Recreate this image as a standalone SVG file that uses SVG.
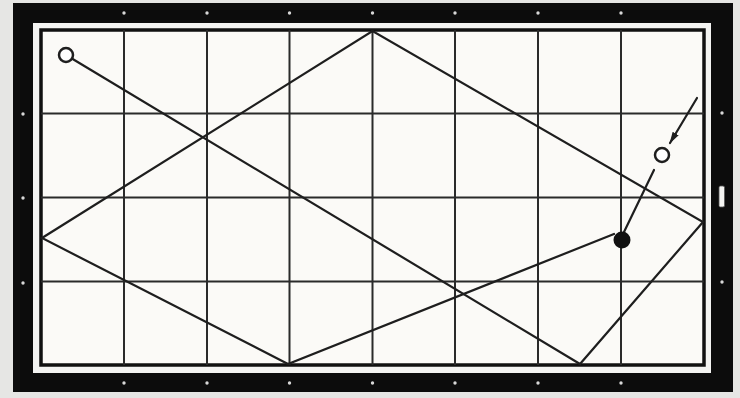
<svg xmlns="http://www.w3.org/2000/svg" width="740" height="398" viewBox="0 0 740 398">
  <defs>
    <style>
      .grid { stroke: #2a2a2a; stroke-width: 2; fill: none; }
      .path { stroke: #1e1e1e; stroke-width: 2.2; fill: none; stroke-linecap: round; }
      .dot { fill: #d8d8d8; }
      .ball-open { fill: #ffffff; stroke: #1e1e1e; stroke-width: 2.5; }
      .ball-solid { fill: #111111; }
    </style>
    <marker id="arrow" viewBox="0 0 12 8" refX="11" refY="4" markerWidth="12" markerHeight="8" markerUnits="userSpaceOnUse" orient="auto">
      <path d="M0,0.5 L12,4 L0,7.5 Z" fill="#1e1e1e"/>
    </marker>
  </defs>

  <rect x="0" y="0" width="740" height="398" fill="#e6e6e4"/>

  <g id="table">
    <rect x="13" y="3" width="720" height="389" fill="#0c0c0c"/>
    <rect x="33" y="23" width="678" height="350" fill="#f4f4f2"/>
    <rect x="41" y="30" width="663" height="335" fill="#fbfaf7" stroke="#111" stroke-width="3.5"/>
  </g>

  <g id="sights">
    <circle class="dot" cx="124" cy="13" r="1.7"/>
    <circle class="dot" cx="207" cy="13" r="1.7"/>
    <circle class="dot" cx="289.5" cy="13" r="1.7"/>
    <circle class="dot" cx="372.5" cy="13" r="1.7"/>
    <circle class="dot" cx="455" cy="13" r="1.7"/>
    <circle class="dot" cx="538" cy="13" r="1.7"/>
    <circle class="dot" cx="621" cy="13" r="1.7"/>
    <circle class="dot" cx="124" cy="383" r="1.7"/>
    <circle class="dot" cx="207" cy="383" r="1.7"/>
    <circle class="dot" cx="289.5" cy="383" r="1.7"/>
    <circle class="dot" cx="372.5" cy="383" r="1.7"/>
    <circle class="dot" cx="455" cy="383" r="1.7"/>
    <circle class="dot" cx="538" cy="383" r="1.7"/>
    <circle class="dot" cx="621" cy="383" r="1.7"/>
    <circle class="dot" cx="23" cy="114" r="1.7"/>
    <circle class="dot" cx="23" cy="198" r="1.7"/>
    <circle class="dot" cx="23" cy="283" r="1.7"/>
    <circle class="dot" cx="722" cy="113" r="1.7"/>
    <circle class="dot" cx="722" cy="282" r="1.7"/>
    <rect x="719" y="186" width="5.5" height="21" rx="1.5" fill="#f4f4f2" stroke="#555" stroke-width="0.8"/>
  </g>

  <g id="grid">
    <line class="grid" x1="124" y1="30" x2="124" y2="365"/>
    <line class="grid" x1="207" y1="30" x2="207" y2="365"/>
    <line class="grid" x1="289.5" y1="30" x2="289.5" y2="365"/>
    <line class="grid" x1="372.5" y1="30" x2="372.5" y2="365"/>
    <line class="grid" x1="455" y1="30" x2="455" y2="365"/>
    <line class="grid" x1="538" y1="30" x2="538" y2="365"/>
    <line class="grid" x1="621" y1="30" x2="621" y2="365"/>
    <line class="grid" x1="41" y1="113.5" x2="704" y2="113.5"/>
    <line class="grid" x1="41" y1="197.5" x2="704" y2="197.5"/>
    <line class="grid" x1="41" y1="281.5" x2="704" y2="281.5"/>
  </g>

  <g id="connectors">
    <polyline class="path" points="71,58 580,364 703,222 372.5,31 42,238 288,364 614,234"/>
    <line class="path" x1="654" y1="170" x2="624" y2="232"/>
    <line class="path" x1="697" y1="98" x2="670" y2="143" marker-end="url(#arrow)"/>
  </g>

  <g id="cue-ball">
    <circle class="ball-open" cx="66" cy="55" r="7"/>
  </g>
  <g id="target-ball">
    <circle class="ball-open" cx="662" cy="155" r="7"/>
  </g>
  <g id="object-ball">
    <circle class="ball-solid" cx="622" cy="240" r="8.5"/>
  </g>
</svg>
